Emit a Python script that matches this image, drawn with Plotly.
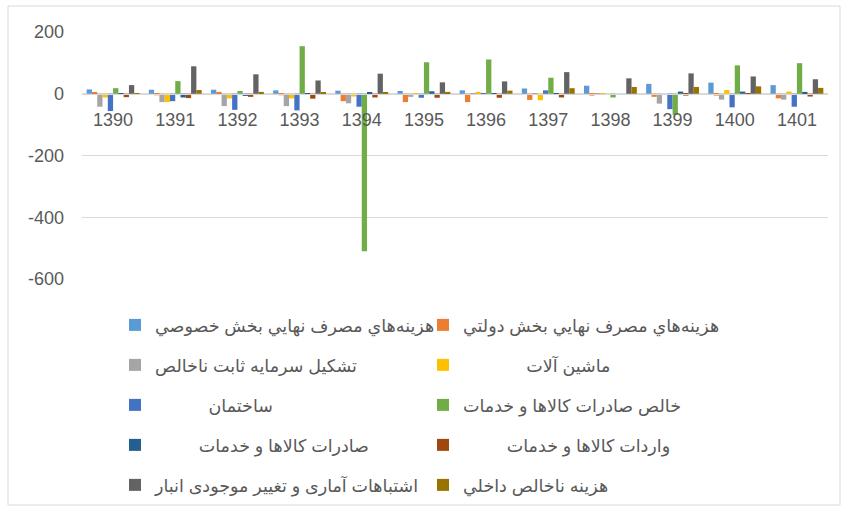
import plotly.graph_objects as go

# years on the category axis
years = ['1390', '1391', '1392', '1393', '1394', '1395', '1396', '1397', '1398', '1399', '1400', '1401']

# series names (legend text) - nbsp padding copies the spacing of the original legend
nbsp = '\u00a0'
names = [
    'هزينه‌هاي مصرف نهايي بخش خصوصي',
    'هزينه‌هاي مصرف نهايي بخش دولتي',
    'تشکيل سرمايه ثابت ناخالص',
    nbsp * 13 + 'ماشين آلات',
    nbsp * 11 + 'ساختمان',
    'خالص صادرات کالاها و خدمات',
    nbsp * 9 + 'صادرات کالاها و خدمات',
    nbsp * 9 + 'واردات کالاها و خدمات',
    'اشتباهات آماری و تغییر موجودی انبار',
    'هزينه ناخالص داخلي',
]

# values
private_cons = [14, 13, 13, 11, 10, 9, 11, 17, 26, 32, 36, 28]
gov_cons = [3, -5, 6, -5, -24, -27, -27, -20, -6, -10, -6, -15]
gross_fixed = [-42, -27, -40, -40, -31, -10, -2, -2, -2, -32, -19, -19]
machinery = [-12, -27, -15, -15, -9, -2, 3, -21, -1, 0, 12, 7]
construction = [-56, -24, -52, -54, -42, -13, -2, 11, 0, -50, -44, -42]
net_exports = [18, 41, 9, 154, -510, 102, 111, 52, -12, -68, 92, 99]
exports = [-2, -12, -7, -2, 5, 8, -2, -2, 0, 7, 7, 6]
imports = [-11, -14, -10, -16, -12, -13, -13, -12, 0, -6, -3, -9]
discrepancy = [28, 89, 63, 43, 65, 37, 40, 70, 50, 66, 56, 47]
gdp = [2, 12, 6, 5, 5, 6, 10, 18, 22, 22, 24, 19]

y_ticks = [-600, -400, -200, 0, 200]
y_ticktext = ['-600', '-400', '-200', '0', '200']

series = [private_cons, gov_cons, gross_fixed, machinery, construction,
          net_exports, exports, imports, discrepancy, gdp]
colors = ['#5B9BD5', '#ED7D31', '#A5A5A5', '#FFC000', '#4472C4',
          '#70AD47', '#255E91', '#9E480E', '#636363', '#997300']

# two legend entries per row, five rows
legend_ids = ['legend', 'legend2', 'legend3', 'legend4', 'legend5']
row_y = [325, 365, 405, 445, 485]

fig = go.Figure()
for i, vals in enumerate(series):
    fig.add_trace(go.Bar(
        x=years, y=vals, name=names[i],
        marker=dict(color=colors[i], line=dict(width=0)),
        legend=legend_ids[i // 2],
    ))

W, H = 841, 506
font_family = 'Liberation Sans, Arial, DejaVu Sans, sans-serif'
legend_style = {}
for k, lid in enumerate(legend_ids):
    legend_style[lid] = dict(
        orientation='h', xref='container', yref='container',
        x=115 / W, xanchor='left', y=1 - row_y[k] / H, yanchor='middle',
        entrywidth=263, entrywidthmode='pixels', traceorder='normal',
        font=dict(family=font_family, size=17.5, color='#595959'),
        bgcolor='rgba(0,0,0,0)', borderwidth=0,
    )

fig.update_layout(
    width=W, height=H,
    margin=dict(l=82, r=13, t=32, b=227, autoexpand=False),
    paper_bgcolor='white', plot_bgcolor='white',
    barmode='group', bargap=0.15, bargroupgap=0,
    font=dict(family=font_family, color='#595959'),
    showlegend=True,
    **legend_style,
)

fig.update_yaxes(
    range=[-600, 200], tickvals=y_ticks, ticktext=y_ticktext,
    showgrid=True, gridcolor='#D9D9D9', gridwidth=1,
    zeroline=False, showline=False, ticks='', ticklabelstandoff=17,
    tickfont=dict(size=18, color='#595959'),
)
fig.update_xaxes(
    anchor='free', position=0.75, showline=True, linecolor='#D9D9D9', linewidth=1,
    ticks='', ticklabelstandoff=10, showgrid=False,
    tickfont=dict(size=18, color='#595959'),
)

# light chart-area border as in the original
fig.add_shape(type='rect', xref='paper', yref='paper',
              x0=(8 - 82) / 746, x1=(840 - 82) / 746,
              y0=(279 - 505) / 247, y1=(279 - 6) / 247,
              line=dict(color='#D9D9D9', width=1))

# no page margin so the figure sits at the window origin
fig.write_html('out.html', config={'displayModeBar': False},
               post_script="document.body.style.margin='0';")
